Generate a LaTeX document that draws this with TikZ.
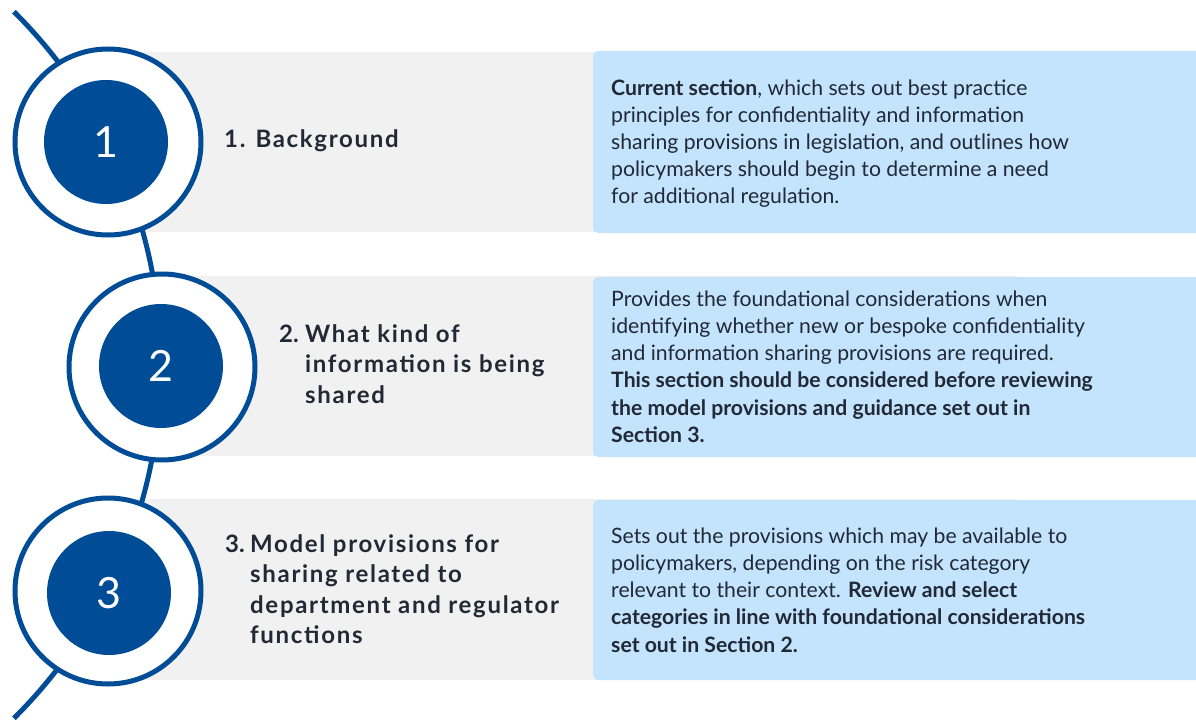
\documentclass[tikz,border=0pt]{standalone}
\usepackage{fontspec}
\setmainfont{Lato}
\newfontfamily\lblfont[LetterSpace=7]{Lato}
\definecolor{vicblue}{HTML}{004C97}
\definecolor{bandgray}{HTML}{F1F1F1}
\definecolor{boxblue}{HTML}{C4E3FC}
\definecolor{inkdark}{HTML}{212836}
\tikzset{
  band/.style={fill=bandgray},
  infobox/.style={fill=boxblue, rounded corners=5pt},
  ring/.style={circle, draw=vicblue, line width=5pt, fill=white, minimum size=186pt, inner sep=0pt},
  disc/.style={circle, fill=vicblue, minimum size=124pt, inner sep=0pt, text=white, font=\fontsize{43}{43}\selectfont},
  lbl/.style={inner sep=0pt, text=inkdark, align=left, font=\lblfont\bfseries\fontsize{24}{30.5}\selectfont},
  lblnum/.style={inner sep=0pt, text=inkdark, font=\bfseries\fontsize{24}{30.5}\selectfont},
  body/.style={inner sep=0pt, text=inkdark, align=left, anchor=north west, font=\fontsize{21.2}{27.2}\selectfont},
}
\begin{document}
\begin{tikzpicture}[x=1pt,y=-1pt]
\useasboundingbox (0,0) rectangle (1196,722);
% bands
\fill[band] (108,52) rectangle (1017,232);
\fill[band] (162,276) rectangle (1017,456);
\fill[band] (108,499) rectangle (1017,680);
% info boxes
\fill[infobox] (593,51) rectangle (1215,233);
\fill[infobox] (593,277) rectangle (1215,457);
\fill[infobox] (593,500) rectangle (1215,680);
% arc
\draw[vicblue, line width=5pt] (-337,365) ++(45.2:498pt) arc[start angle=45.2, end angle=-45.2, radius=498pt];
% circles
\node[ring] (r1) at (108,142) {};
\node[ring] (r2) at (162,367) {};
\node[ring] (r3) at (108,591) {};
\node[disc] (d1) at (106,142) {1};
\node[disc] (d2) at (161,366) {2};
\node[disc] (d3) at (109,593) {3};
% labels
\node[lbl, anchor=base west] (l1) at (224,148) {1. Background};
\node[lblnum, anchor=base west] (l2n) at (279,342) {2.};
\node[lbl, anchor=north west] (l2) at (305,320.65) {\strut What kind of\\information is being\\shared};
\node[lblnum, anchor=base west] (l3n) at (225,552) {3.};
\node[lbl, anchor=north west] (l3) at (250,530.65) {\strut Model provisions for\\sharing related to\\department and regulator\\functions};
% body texts
\node[body] (t1) at (611,75.96) {\strut\textbf{Current section}, which sets out best practice\\principles for confidentiality and information\\sharing provisions in legislation, and outlines how\\policymakers should begin to determine a need\\for additional regulation.};
\node[body] (t2) at (611,286.96) {\strut Provides the foundational considerations when\\identifying whether new or bespoke confidentiality\\and information sharing provisions are required.\\\textbf{This section should be considered before reviewing}\\\textbf{the model provisions and guidance set out in}\\\textbf{Section 3.}};
\node[body] (t3) at (611,523.96) {\strut Sets out the provisions which may be available to\\policymakers, depending on the risk category\\relevant to their context. \textbf{Review and select}\\\textbf{categories in line with foundational considerations}\\\textbf{set out in Section 2.}};
\end{tikzpicture}
\end{document}
